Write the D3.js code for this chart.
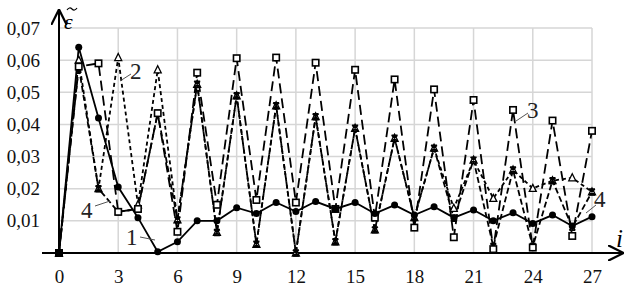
<!DOCTYPE html>
<html>
<head>
<meta charset="utf-8">
<script src="https://cdn.jsdelivr.net/npm/d3@7"></script>
<style>
  body { margin: 0; background: #fff; }
  svg text { font-family: "Liberation Serif", "DejaVu Serif", "Times New Roman", Times, serif !important; }
</style>
</head>
<body>
<svg id="chart" width="633" height="289"></svg>
<script>
// iteration index
var steps = d3.range(0, 28);
var xTicks = [0, 3, 6, 9, 12, 15, 18, 21, 24, 27];
var yTicks = [0.01, 0.02, 0.03, 0.04, 0.05, 0.06, 0.07];

// curve 1 - solid, filled circles
var curve1 = [0, 0.064, 0.042, 0.0205, 0.011, 0.0004, 0.0035, 0.010, 0.010, 0.0141, 0.0123, 0.0157, 0.0129, 0.016,
    0.0137, 0.0157, 0.0123, 0.0149, 0.0118, 0.0144, 0.011, 0.0134, 0.010, 0.0125, 0.0092, 0.0118, 0.0084, 0.0113];
// curve 2 - short dash, triangles
var curve2 = [0, 0.060, 0.020, 0.0608, 0.015, 0.057, 0.0103, 0.0525, 0.0064, 0.0489, 0.0027, 0.0458, 0.0, 0.0424,
    0.0035, 0.0388, 0.0072, 0.0357, 0.011, 0.0326, 0.0139, 0.0289, 0.017, 0.0258, 0.0201, 0.0225, 0.0234, 0.019];
// curve 3 - long dash, squares
var curve3 = [0, 0.058, 0.059, 0.0128, 0.0137, 0.0435, 0.0066, 0.0561, 0.015, 0.0606, 0.0165, 0.0608, 0.0157, 0.0592,
    0.0137, 0.057, 0.011, 0.054, 0.0079, 0.0509, 0.0049, 0.0476, 0.0012, 0.0445, 0.0017, 0.0412, 0.0053, 0.038];
// curve 4 - dash, stars
var curve4 = [0, 0.058, 0.020, 0.0128, 0.0137, 0.0435, 0.0103, 0.0525, 0.0064, 0.0489, 0.0027, 0.0458, 0.0, 0.0424,
    0.0035, 0.0388, 0.0072, 0.0357, 0.011, 0.0326, 0.0108, 0.0289, 0.002, 0.0258, 0.002, 0.0225, 0.008, 0.019];

var svg = d3.select('#chart');
var x = d3.scaleLinear().domain([0, 27]).range([59, 592]);
var y = d3.scaleLinear().domain([0, 0.07]).range([253, 28]);
var comma = function(d) { return d3.format('.2f')(d).replace('.', ','); };
var serif = '"Liberation Serif", "DejaVu Serif", serif';

// grid
svg.append('g').selectAll('line.h')
    .data(yTicks).enter().append('line')
    .attr('x1', x(0)).attr('x2', x(27))
    .attr('y1', function(d) { return y(d); }).attr('y2', function(d) { return y(d); })
    .attr('stroke', '#d6d6d6').attr('stroke-width', 1.5);
svg.append('g').selectAll('line.v')
    .data(xTicks.slice(1)).enter().append('line')
    .attr('x1', function(d) { return x(d); }).attr('x2', function(d) { return x(d); })
    .attr('y1', y(0.07)).attr('y2', y(0))
    .attr('stroke', '#d6d6d6').attr('stroke-width', 1.5);

// axes (labels only, the lines are drawn as arrows below)
var yAxis = svg.append('g').attr('transform', 'translate(' + x(0) + ',0)')
    .call(d3.axisLeft(y).tickValues(yTicks).tickFormat(comma).tickSize(0).tickPadding(19));
var xAxis = svg.append('g').attr('transform', 'translate(0,' + y(0) + ')')
    .call(d3.axisBottom(x).tickValues(xTicks).tickFormat(d3.format('d')).tickSize(0).tickPadding(17));
[yAxis, xAxis].forEach(function(a) {
    a.attr('font-family', serif);
    a.select('.domain').remove();
    a.selectAll('text').style('font-family', serif).attr('font-size', 19).attr('fill', '#111');
});

svg.append('defs').append('marker')
    .attr('id', 'arrow').attr('viewBox', '0 0 10 10').attr('refX', 9).attr('refY', 5)
    .attr('markerWidth', 8).attr('markerHeight', 8).attr('orient', 'auto')
    .append('path').attr('d', 'M0,0 L10,5 L0,10').attr('fill', 'none').attr('stroke', '#000').attr('stroke-width', 1.4);

svg.append('line').attr('x1', 42).attr('x2', 622).attr('y1', y(0)).attr('y2', y(0))
    .attr('stroke', '#000').attr('stroke-width', 2).attr('marker-end', 'url(#arrow)');
svg.append('line').attr('x1', x(0)).attr('x2', x(0)).attr('y1', y(0)).attr('y2', 11)
    .attr('stroke', '#000').attr('stroke-width', 2).attr('marker-end', 'url(#arrow)');

// axis names: epsilon with a tilde (drawn as a small wave), i
svg.append('text').attr('x', 64).attr('y', 29).attr('font-size', 22).attr('font-style', 'italic').text('\u03B5');
svg.append('path').attr('d', 'M67,10 Q69.5,6.5 72,9 T77,8')
    .attr('fill', 'none').attr('stroke', '#000').attr('stroke-width', 1.2);
svg.append('text').attr('x', 616).attr('y', 247).attr('font-size', 25).attr('font-style', 'italic').text('i');

// curves
var series = [
    {values: curve2, dash: '4,3', mark: 'tri'},
    {values: curve4, dash: '6,3', mark: 'star'},
    {values: curve3, dash: '10,5', mark: 'sq'},
    {values: curve1, dash: null, mark: 'dot'}
];
var line = d3.line()
    .x(function(d, i) { return x(steps[i]); })
    .y(function(d) { return y(d); });

series.forEach(function(s) {
    svg.append('path').datum(s.values)
        .attr('d', line).attr('fill', 'none').attr('stroke', '#000').attr('stroke-width', 1.8)
        .attr('stroke-dasharray', s.dash);
});

series.forEach(function(s) {
    var g = svg.append('g');
    var pts = g.selectAll('g').data(s.values).enter().append('g')
        .attr('transform', function(d, i) { return 'translate(' + x(steps[i]) + ',' + y(d) + ')'; });
    if (s.mark === 'dot') {
        pts.append('circle').attr('r', 3.5).attr('fill', '#000');
    } else if (s.mark === 'sq') {
        pts.append('rect').attr('x', -3.2).attr('y', -3.2).attr('width', 6.4).attr('height', 6.4)
            .attr('fill', '#fff').attr('stroke', '#000').attr('stroke-width', 1.6);
    } else if (s.mark === 'tri') {
        pts.append('path').attr('d', 'M0,-4 L3.5,3 L-3.5,3 Z')
            .attr('fill', '#fff').attr('stroke', '#000').attr('stroke-width', 1.3);
    } else {
        pts.append('path').attr('d', 'M-3,-3 L3,3 M3,-3 L-3,3 M-3,-3 L3,-3 M-3,3 L3,3 M0,-3.5 L0,3.5')
            .attr('fill', 'none').attr('stroke', '#000').attr('stroke-width', 1.4);
    }
});
// starting point
svg.append('rect').attr('x', x(0) - 4).attr('y', y(0) - 4).attr('width', 8).attr('height', 8).attr('fill', '#000');

// curve numbers with leader lines
var notes = [
    {t: '1', tx: 126, ty: 245, x1: 140, y1: 237, x2: 155, y2: 240},
    {t: '2', tx: 130, ty: 79, x1: 131, y1: 74, x2: 120, y2: 81},
    {t: '3', tx: 527, ty: 118, x1: 528, y1: 113, x2: 516, y2: 121},
    {t: '4', tx: 81, ty: 218, x1: 95, y1: 206, x2: 110, y2: 201},
    {t: '4', tx: 594, ty: 207, x1: 596, y1: 205, x2: 586, y2: 213}
];
svg.append('g').selectAll('line').data(notes).enter().append('line')
    .attr('x1', function(d) { return d.x1; }).attr('y1', function(d) { return d.y1; })
    .attr('x2', function(d) { return d.x2; }).attr('y2', function(d) { return d.y2; })
    .attr('stroke', '#555').attr('stroke-width', 1);
svg.append('g').selectAll('text').data(notes).enter().append('text')
    .attr('x', function(d) { return d.tx; }).attr('y', function(d) { return d.ty; })
    .attr('font-size', 23).attr('fill', '#222').text(function(d) { return d.t; });
</script>
</body>
</html>
